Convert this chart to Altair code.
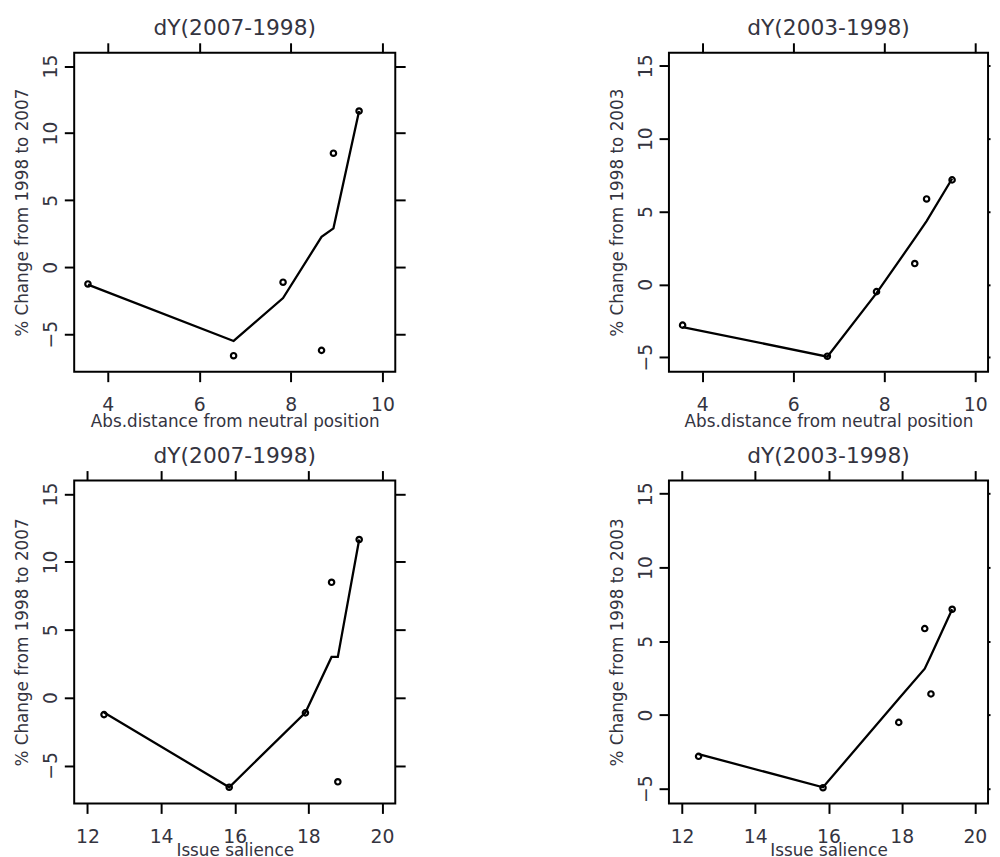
import altair as alt
import pandas as pd

FONT = "DejaVu Sans"
TXT = "#34343f"

# six parties, same order everywhere
distance = [3.57, 6.75, 7.83, 8.67, 8.93, 9.49]
salience = [12.45, 15.85, 17.92, 18.80, 18.63, 19.38]
dy2007 = [-1.25, -6.6, -1.12, -6.2, 8.5, 11.65]
dy2003 = [-2.8, -4.93, -0.5, 1.43, 5.86, 7.17]

# fitted curves, same party order
fit07_dist = [-1.3, -5.5, -2.3, 2.26, 2.9, 11.65]
fit03_dist = [-2.93, -4.96, -0.6, 3.15, 4.34, 7.25]
fit07_sal = [-1.1, -6.6, -1.1, 3.0, 3.0, 11.65]
fit03_sal = [-2.65, -4.9, 1.1, 4.04, 3.14, 7.17]

x_dist_ticks = [4, 6, 8, 10]
x_sal_ticks = [12, 14, 16, 18, 20]
y_ticks = [-5, 0, 5, 10, 15]

x_dist_dom = [3.27, 10.28]
x_sal_dom = [11.64, 20.36]
y07_dom = [-7.8, 16.0]
y03_dom = [-6.0, 15.9]

XT_DIST = "Abs.distance from neutral position"
XT_SAL = "Issue salience"
YT07 = "% Change from 1998 to 2007"
YT03 = "% Change from 1998 to 2003"


def panel(xs, ys, fy, xdom, ydom, xticks, title, xtitle, ytitle, w, h,
          right_tick, title_y):
    pts = pd.DataFrame({"x": xs, "y": ys})
    fit = pd.DataFrame({"x": xs, "y": fy})
    xsc = alt.Scale(domain=xdom, nice=False, zero=False)
    ysc = alt.Scale(domain=ydom, nice=False, zero=False)
    common = dict(domain=False, grid=False, tickWidth=2, tickColor="black")
    xb = alt.Axis(orient="bottom", values=xticks, title=xtitle, tickSize=10,
                  labelFont=FONT, labelFontSize=19, labelColor=TXT,
                  labelPadding=14, labelFlush=False, titleFont=FONT,
                  titleFontSize=17, titleFontWeight="normal", titleColor=TXT,
                  titleY=title_y, titleBaseline="top", **common)
    yl = alt.Axis(orient="left", values=y_ticks, title=ytitle, tickSize=10,
                  labelFont=FONT, labelFontSize=19, labelColor=TXT,
                  labelAngle=270, labelAlign="center",
                  labelBaseline="alphabetic", labelPadding=8,
                  labelFlush=False, titleFont=FONT, titleFontSize=17,
                  titleFontWeight="normal", titleColor=TXT, titleX=-47,
                  titleBaseline="alphabetic", **common)
    xt = alt.Axis(orient="top", values=xticks, title=None, labels=False,
                  tickSize=10, **common)
    yr = alt.Axis(orient="right", values=y_ticks, title=None, labels=False,
                  tickSize=right_tick, **common)
    line = alt.Chart(fit).mark_line(color="black", strokeWidth=2.3).encode(
        x=alt.X("x:Q", scale=xsc, axis=xb),
        y=alt.Y("y:Q", scale=ysc, axis=yl),
    )
    dots = alt.Chart(pts).mark_point(shape="circle", filled=False,
                                     color="black", size=30, strokeWidth=2.2,
                                     opacity=1).encode(
        x=alt.X("x:Q", scale=xsc, axis=xt),
        y=alt.Y("y:Q", scale=ysc, axis=yr),
    )
    return alt.layer(line, dots).properties(
        width=w, height=h,
        title=alt.TitleParams(title, font=FONT, fontSize=22,
                              fontWeight="normal", color=TXT, offset=-15,
                              baseline="alphabetic", anchor="middle"),
    )


p1 = panel(distance, dy2007, fit07_dist, x_dist_dom, y07_dom, x_dist_ticks,
           "dY(2007-1998)", XT_DIST, YT07, 325, 323, 10, 42)
p2 = panel(distance, dy2003, fit03_dist, x_dist_dom, y03_dom, x_dist_ticks,
           "dY(2003-1998)", XT_DIST, YT03, 323, 323, 2, 42)
p3 = panel(salience, dy2007, fit07_sal, x_sal_dom, y07_dom, x_sal_ticks,
           "dY(2007-1998)", XT_SAL, YT07, 325, 327, 10, 40)
p4 = panel(salience, dy2003, fit03_sal, x_sal_dom, y03_dom, x_sal_ticks,
           "dY(2003-1998)", XT_SAL, YT03, 323, 327, 2, 40)

chart = alt.concat(p1, p2, p3, p4, columns=2,
                   spacing={"row": 110, "column": 277},
                   bounds="flush").properties(
    padding={"left": 5, "top": 3, "right": 0, "bottom": 0},
    background="white",
).configure_view(stroke="black", strokeWidth=2)

chart.save("out.html", embed_options={"renderer": "svg", "actions": False})
